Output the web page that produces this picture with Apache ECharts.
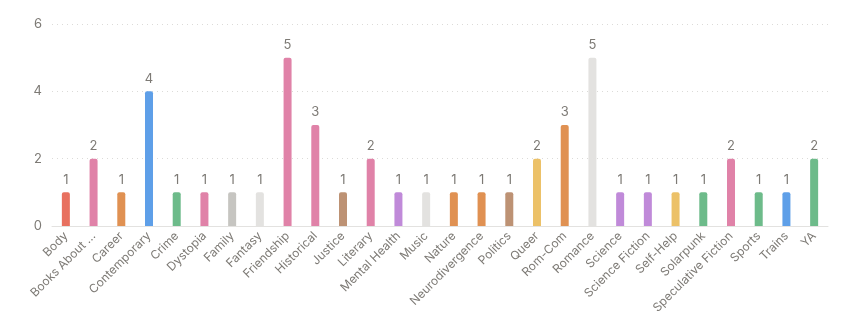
<!DOCTYPE html>
<html><head><meta charset="utf-8">
<script src="https://cdn.jsdelivr.net/npm/echarts@6/dist/echarts.min.js"></script>
<style>html,body{margin:0;padding:0;background:#fff}#c{width:854px;height:331px}</style>
</head><body><div id="c"></div>
<script>
const categories = ["Body","Books About ...","Career","Contemporary","Crime","Dystopia","Family","Fantasy","Friendship","Historical","Justice","Literary","Mental Health","Music","Nature","Neurodivergence","Politics","Queer","Rom-Com","Romance","Science","Science Fiction","Self-Help","Solarpunk","Speculative Fiction","Sports","Trains","YA"];
const values = [1,2,1,4,1,1,1,1,5,3,1,2,1,1,1,1,1,2,3,5,1,1,1,1,2,1,1,2];
const barColors = ["#e8705f","#e082a8","#e09152","#5e9fe8","#6dbb8a","#e082a8","#c6c5c1","#e3e2e0","#e082a8","#e082a8","#bd9274","#e082a8","#c08ad9","#e3e2e0","#e09152","#e09152","#bd9274","#ecc168","#e09152","#e3e2e0","#c08ad9","#c08ad9","#ecc168","#6dbb8a","#e082a8","#6dbb8a","#5e9fe8","#6dbb8a"];
const yTicks = [0,2,4,6];

const chart = echarts.init(document.getElementById('c'));
chart.setOption({
  animation:false,
  textStyle:{fontFamily:'Inter'},
  grid:{left:52,right:26,top:24,bottom:105,containLabel:false},
  xAxis:{type:'category',data:categories,
    axisLine:{lineStyle:{color:'#e3e2e0'}},axisTick:{show:false},
    axisLabel:{rotate:45,interval:0,color:'#7d7a75',fontSize:12,margin:8,hideOverlap:false}},
  yAxis:{type:'value',min:0,max:6,interval:2,
    axisLine:{show:false},axisTick:{show:false},
    axisLabel:{color:'#7d7a75',fontSize:13,margin:10,formatter:v=>yTicks.includes(v)?String(v):''},
    splitLine:{show:true,lineStyle:{color:'#dcdbd8',type:[1,4]}}},
  series:[{type:'bar',barWidth:8,
    data:values.map((v,i)=>({value:v,itemStyle:{color:barColors[i]}})),
    itemStyle:{borderRadius:[2,2,0,0]},
    label:{show:true,position:'top',color:'#7d7a75',fontSize:13,distance:6}}]
});
</script></body></html>
